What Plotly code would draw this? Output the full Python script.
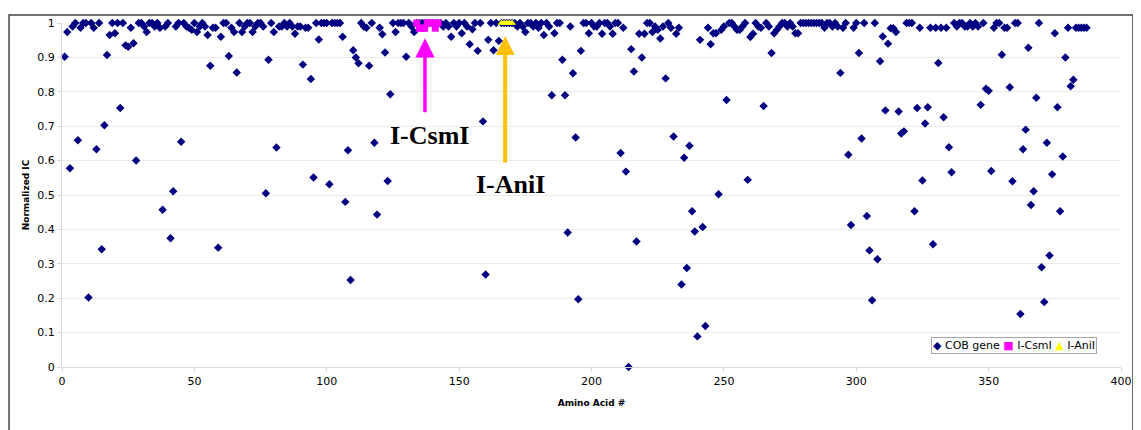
import plotly.graph_objects as go

# ---------------- data ----------------
amino_acid = list(range(1, 388))
cob_ic = [
    0.902, 0.974, 0.578, 0.99, 1.0, 0.659, 0.986, 1.0, 1.0, 0.202,
    1.0, 0.986, 0.633, 1.0, 0.342, 0.703, 0.907, 0.965, 1.0, 0.97,
    1.0, 0.753, 1.0, 0.935, 0.931, 0.986, 0.941, 0.60, 1.0, 1.0,
    0.99, 0.974, 1.0, 1.0, 0.99, 1.0, 0.986, 0.457, 0.99, 1.0,
    0.374, 0.511, 0.99, 1.0, 0.655, 1.0, 0.99, 0.986, 0.98, 1.0,
    0.974, 0.99, 1.0, 0.99, 0.965, 0.876, 0.986, 0.986, 0.347, 0.96,
    1.0, 1.0, 0.904, 0.986, 0.974, 0.856, 1.0, 0.974, 0.99, 1.0,
    1.0, 0.974, 0.99, 1.0, 1.0, 0.99, 0.505, 0.893, 1.0, 0.974,
    0.638, 0.99, 0.99, 1.0, 0.99, 1.0, 0.99, 0.969, 0.99, 0.99,
    0.879, 0.986, 0.986, 0.837, 0.551, 1.0, 0.952, 1.0, 1.0, 1.0,
    0.531, 1.0, 1.0, 1.0, 1.0, 0.96, 0.48, 0.63, 0.253, 0.921,
    0.90, 0.883, 1.0, 0.99, 0.986, 0.876, 1.0, 0.652, 0.443, 0.986,
    0.967, 0.914, 0.541, 0.793, 1.0, 0.974, 1.0, 1.0, 1.0, 0.902,
    1.0, 0.99, 0.974, 1.0, 1.0, 1.0, 1.0, 1.0, 1.0, 1.0,
    1.0, 1.0, 1.0, 0.99, 1.0, 0.99, 0.96, 1.0, 0.99, 1.0,
    0.97, 1.0, 0.99, 0.938, 0.982, 1.0, 0.919, 1.0, 0.714, 0.269,
    0.951, 1.0, 0.921, 1.0, 0.948, 1.0, 1.0, 1.0, 1.0, 1.0,
    1.0, 0.99, 1.0, 0.99, 0.974, 1.0, 1.0, 0.99, 1.0, 0.986,
    1.0, 0.965, 1.0, 0.99, 0.79, 0.97, 1.0, 1.0, 0.893, 0.79,
    0.391, 0.99, 0.854, 0.667, 0.197, 0.919, 1.0, 1.0, 0.97, 1.0,
    0.99, 0.99, 1.0, 0.969, 1.0, 1.0, 0.99, 0.969, 1.0, 1.0,
    0.622, 0.986, 0.568, 0.0, 0.924, 0.859, 0.365, 0.969, 0.90, 0.969,
    1.0, 1.0, 0.974, 0.99, 0.98, 0.955, 0.99, 0.839, 1.0, 0.986,
    0.67, 0.969, 0.986, 0.24, 0.608, 0.288, 0.643, 0.453, 0.394, 0.089,
    0.951, 0.407, 0.119, 0.986, 0.938, 0.97, 0.97, 0.502, 0.98, 0.99,
    0.776, 1.0, 1.0, 0.99, 0.98, 0.98, 0.99, 1.0, 0.544, 0.959,
    0.969, 1.0, 0.99, 0.986, 0.759, 1.0, 0.99, 0.913, 0.97, 0.98,
    0.99, 1.0, 1.0, 0.99, 1.0, 0.99, 0.97, 0.97, 1.0, 1.0,
    1.0, 1.0, 1.0, 1.0, 1.0, 1.0, 1.0, 0.986, 1.0, 1.0,
    0.99, 1.0, 0.99, 0.855, 0.986, 1.0, 0.617, 0.413, 0.986, 1.0,
    0.913, 0.664, 1.0, 0.439, 0.339, 0.194, 1.0, 0.313, 0.889, 0.961,
    0.746, 0.94, 0.985, 0.985, 0.974, 0.743, 0.679, 0.685, 1.0, 1.0,
    1.0, 0.453, 0.753, 0.986, 0.542, 0.708, 0.755, 0.986, 0.357, 0.986,
    0.884, 0.986, 0.726, 0.986, 0.639, 0.566, 1.0, 0.99, 1.0, 1.0,
    0.99, 0.99, 1.0, 0.99, 1.0, 0.99, 0.762, 1.0, 0.809, 0.803,
    0.57, 0.986, 1.0, 1.0, 0.908, 0.986, 0.986, 0.813, 0.54, 1.0,
    1.0, 0.154, 0.633, 0.69, 0.928, 0.471, 0.511, 0.783, 1.0, 0.29,
    0.189, 0.652, 0.324, 0.56, 0.97, 0.755, 0.453, 0.612, 0.90, 0.986,
    0.816, 0.835, 0.986, 0.986, 0.986, 0.986, 0.986,
]
csmi_aa = [134, 135, 136, 137, 138, 139, 140, 141, 142]
csmi_ic = [1.0, 0.985, 0.985, 0.985, 1.0, 1.0, 1.0, 0.985, 1.0]
anii_aa = [166, 167, 168, 169, 170]
anii_ic = [1.0, 1.0, 1.0, 1.0, 1.0]

x_ticks = [0, 50, 100, 150, 200, 250, 300, 350, 400]
y_ticks = [0, 0.1, 0.2, 0.3, 0.4, 0.5, 0.6, 0.7, 0.8, 0.9, 1.0]
y_tick_labels = ["0", "0.1", "0.2", "0.3", "0.4", "0.5", "0.6", "0.7", "0.8", "0.9", "1"]

# site markers: (label, arrow x, arrow tip y, arrow tail y, label x, label y, colour, width, size)
sites = [
    ("I-CsmI", 137.1, 0.956, 0.736, 138.9, 0.673, "#FF00FF", 3.5, 1.1),
    ("I-AniI", 167.4, 0.962, 0.590, 169.4, 0.531, "#FFC000", 4.0, 0.95),
]

NAVY = "#000080"
MAGENTA = "#FF00FF"
YELLOW = "#FFFF00"
GRID = "#EBEBEB"
AXIS = "#D9D9D9"
TICKFONT = dict(family="DejaVu Sans", size=11, color="#000000")

fig = go.Figure()
fig.add_trace(go.Scatter(
    x=amino_acid, y=cob_ic, mode="markers", name="COB gene",
    marker=dict(symbol="diamond", size=6.5, color=NAVY, line=dict(width=0)),
    cliponaxis=False,
))
fig.add_trace(go.Scatter(
    x=csmi_aa, y=csmi_ic, mode="markers", name="I-CsmI",
    marker=dict(symbol="square", size=7, color=MAGENTA, line=dict(width=0)),
    cliponaxis=False,
))
fig.add_trace(go.Scatter(
    x=anii_aa, y=anii_ic, mode="markers", name="I-AniI",
    marker=dict(symbol="triangle-up", size=7, color=YELLOW, line=dict(width=0)),
    cliponaxis=False,
))

annotations = []
for label, ax_x, tip_y, tail_y, lx, ly, col, aw, asz in sites:
    annotations.append(dict(
        x=ax_x, y=tip_y, ax=ax_x, ay=tail_y, xref="x", yref="y",
        axref="x", ayref="y", text="", showarrow=True,
        arrowhead=2, arrowwidth=aw, arrowsize=asz, arrowcolor=col,
    ))
    annotations.append(dict(
        x=lx, y=ly, xref="x", yref="y", text="<b>" + label + "</b>",
        showarrow=False,
        font=dict(family="Liberation Serif", size=26, color="#000000"),
    ))

legend_text = (
    '<span style="color:%s">\u25C6</span> COB gene '
    '<span style="color:%s">\u25A0</span> I-CsmI '
    '<span style="color:%s">\u25B2</span> I-AniI' % (NAVY, MAGENTA, YELLOW)
)
annotations.append(dict(
    x=0.9775, y=0.088, xref="paper", yref="paper",
    xanchor="right", yanchor="top", text=legend_text, showarrow=False,
    font=dict(family="DejaVu Sans", size=11, color="#000000"),
    bordercolor="#A6A6A6", borderwidth=1, borderpad=1, bgcolor="#FFFFFF",
))

# the page body adds an 8px offset, so the figure is 8px smaller and margins shifted
fig.update_layout(
    width=1133, height=422,
    margin=dict(l=54, r=15, t=9, b=63),
    paper_bgcolor="#FFFFFF", plot_bgcolor="#FFFFFF",
    showlegend=False,
    annotations=annotations,
    shapes=[dict(
        type="rect", xref="paper", yref="paper",
        x0=-0.0500, x1=1.0113, y0=-0.25, y1=1.0236,
        line=dict(color="#444444", width=1.5), fillcolor="rgba(0,0,0,0)",
        layer="below",
    )],
    xaxis=dict(
        range=[0, 400], tickvals=x_ticks, showgrid=False, zeroline=False,
        showline=True, linecolor=AXIS, linewidth=1,
        ticks="outside", ticklen=4, tickcolor=AXIS, tickfont=TICKFONT,
        title=dict(text="<b>Amino Acid #</b>", standoff=12,
                   font=dict(family="DejaVu Sans", size=9, color="#000000")),
    ),
    yaxis=dict(
        range=[0, 1], tickvals=y_ticks, ticktext=y_tick_labels,
        showgrid=True, gridcolor=GRID, gridwidth=1, zeroline=False,
        showline=True, linecolor=AXIS, linewidth=1,
        ticks="outside", ticklen=4, tickcolor=AXIS, tickfont=TICKFONT,
        title=dict(text="<b>Normalized IC</b>", standoff=6,
                   font=dict(family="DejaVu Sans", size=9, color="#000000")),
    ),
)

fig.write_html("out.html")
